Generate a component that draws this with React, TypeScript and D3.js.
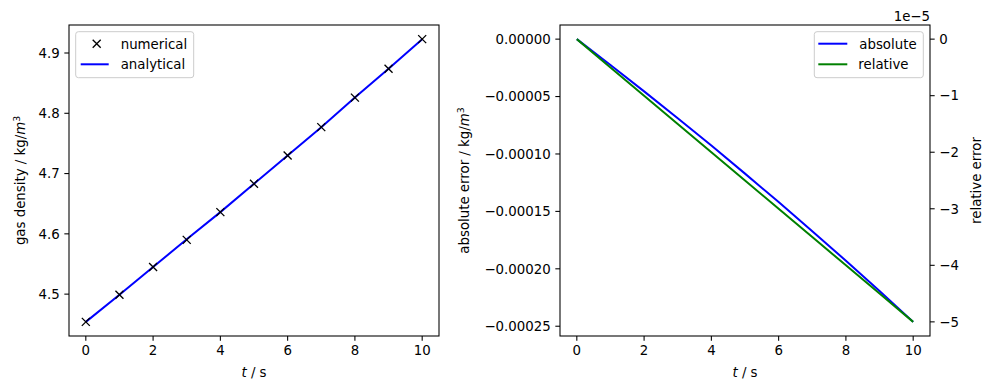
import React from 'react';
import * as d3 from 'd3';

// values
const times = [0, 1, 2, 3, 4, 5, 6, 7, 8, 9, 10];
const numerical = [4.454, 4.499, 4.545, 4.590, 4.636, 4.683, 4.730, 4.777, 4.826, 4.874, 4.923];
const analytical = [4.454, 4.499, 4.545, 4.591, 4.636, 4.683, 4.730, 4.777, 4.826, 4.874, 4.923];
const absoluteError = [0, -2.25e-5, -4.55e-5, -6.89e-5, -9.27e-5, -1.171e-4, -1.419e-4, -1.672e-4, -1.930e-4, -2.193e-4, -2.462e-4];
const relativeError = [0, -0.5e-5, -1.0e-5, -1.5e-5, -2.0e-5, -2.5e-5, -3.0e-5, -3.5e-5, -4.0e-5, -4.5e-5, -5.0e-5];

const timeTicks = [0, 2, 4, 6, 8, 10];
const densityTicks = [4.5, 4.6, 4.7, 4.8, 4.9];
const absTicks = [0, -0.00005, -0.0001, -0.00015, -0.0002, -0.00025];
const relTicks = [0, -1e-5, -2e-5, -3e-5, -4e-5, -5e-5];

const FONT = '"DejaVu Sans", sans-serif';
const FS = 13.33;
const TOP = 25;
const BOTTOM = 336;
const TICK = 4.67;
const leftBox = {x0: 69, x1: 439};
const rightBox = {x0: 560, x1: 930};

// matplotlib style 5% margins
function padded(values: number[]): [number, number] {
  const [lo, hi] = d3.extent(values) as [number, number];
  const m = (hi - lo) * 0.05;
  return [lo - m, hi + m];
}
const minus = (s: string) => s.replace('-', '\u2212');

function Frame({x0, x1}: {x0: number, x1: number}) {
  return <rect x={x0} y={TOP} width={x1 - x0} height={BOTTOM - TOP} fill="none" stroke="black" strokeWidth={1.07}/>;
}

function XAxis({x}: {x: d3.ScaleLinear<number, number>}) {
  const [r0, r1] = x.range();
  return (
    <g>
      {timeTicks.map(t => (
        <g key={t} transform={`translate(${x(t)},${BOTTOM})`}>
          <line y2={TICK} stroke="black" strokeWidth={1.07}/>
          <text y={19} textAnchor="middle" fontSize={FS}>{t}</text>
        </g>
      ))}
      <text x={(r0 + r1) / 2} y={377} textAnchor="middle" fontSize={FS}>
        <tspan fontStyle="italic">t</tspan> / s
      </text>
    </g>
  );
}

function YAxis({y, ticks, at, side, fmt}: {y: d3.ScaleLinear<number, number>, ticks: number[], at: number, side: 'left' | 'right', fmt: (v: number) => string}) {
  const dir = side === 'left' ? -1 : 1;
  return (
    <g>
      {ticks.map(v => (
        <g key={v} transform={`translate(${at},${y(v)})`}>
          <line x2={dir * TICK} stroke="black" strokeWidth={1.07}/>
          <text x={dir * 9.3} dy="0.36em" textAnchor={side === 'left' ? 'end' : 'start'} fontSize={FS}>{fmt(v)}</text>
        </g>
      ))}
    </g>
  );
}

function UnitLabel({x, text}: {x: number, text: string}) {
  const cy = (TOP + BOTTOM) / 2;
  return (
    <text transform={`translate(${x},${cy}) rotate(-90)`} textAnchor="middle" fontSize={FS}>
      {text} / kg/<tspan fontStyle="italic">m</tspan><tspan fontSize={9.3} dy={-5.5}>3</tspan>
    </text>
  );
}

function DensityPanel() {
  const x = d3.scaleLinear().domain(padded(times)).range([leftBox.x0, leftBox.x1]);
  const y = d3.scaleLinear().domain(padded(numerical.concat(analytical))).range([BOTTOM, TOP]);
  const line = d3.line<number>().x((_, i) => x(times[i])).y(d => y(d));
  const lx = 75.7, ly = 31.7;
  return (
    <g>
      <path d={line(analytical) || ''} fill="none" stroke="#0000ff" strokeWidth={2}/>
      {numerical.map((v, i) => (
        <path key={i} d="M-4,-4L4,4M-4,4L4,-4" transform={`translate(${x(times[i])},${y(v)})`} stroke="black" strokeWidth={1.33}/>
      ))}
      <Frame {...leftBox}/>
      <XAxis x={x}/>
      <YAxis y={y} ticks={densityTicks} at={leftBox.x0} side="left" fmt={d3.format('.1f')}/>
      <UnitLabel x={25} text="gas density"/>
      <g transform={`translate(${lx},${ly})`}>
        <rect width={118} height={46} rx={2.7} fill="white" fillOpacity={0.8} stroke="#cccccc" strokeWidth={1}/>
        <path d="M17,8L25,16M17,16L25,8" stroke="black" strokeWidth={1.33}/>
        <text x={45} y={17} fontSize={FS}>numerical</text>
        <line x1={5} x2={33} y1={32.6} y2={32.6} stroke="#0000ff" strokeWidth={2}/>
        <text x={45} y={37} fontSize={FS}>analytical</text>
      </g>
    </g>
  );
}

function ErrorPanel() {
  const x = d3.scaleLinear().domain(padded(times)).range([rightBox.x0, rightBox.x1]);
  const yAbs = d3.scaleLinear().domain(padded(absoluteError)).range([BOTTOM, TOP]);
  const yRel = d3.scaleLinear().domain(padded(relativeError)).range([BOTTOM, TOP]);
  const absLine = d3.line<number>().x((_, i) => x(times[i])).y(d => yAbs(d));
  const relLine = d3.line<number>().x((_, i) => x(times[i])).y(d => yRel(d));
  const lx = 814.3, ly = 31.7;
  return (
    <g>
      <path d={absLine(absoluteError) || ''} fill="none" stroke="#0000ff" strokeWidth={2}/>
      <path d={relLine(relativeError) || ''} fill="none" stroke="#008000" strokeWidth={2}/>
      <Frame {...rightBox}/>
      <XAxis x={x}/>
      <YAxis y={yAbs} ticks={absTicks} at={rightBox.x0} side="left" fmt={v => minus(d3.format('.5f')(v))}/>
      <YAxis y={yRel} ticks={relTicks} at={rightBox.x1} side="right" fmt={v => minus(String(Math.round(v / 1e-5)))}/>
      <text x={rightBox.x1} y={20.5} textAnchor="end" fontSize={FS}>1e{'\u2212'}5</text>
      <UnitLabel x={469} text="absolute error"/>
      <text transform={`translate(980.5,${(TOP + BOTTOM) / 2}) rotate(-90)`} textAnchor="middle" fontSize={FS}>relative error</text>
      <g transform={`translate(${lx},${ly})`}>
        <rect width={109} height={46} rx={2.7} fill="white" fillOpacity={0.8} stroke="#cccccc" strokeWidth={1}/>
        <line x1={4} x2={33} y1={12} y2={12} stroke="#0000ff" strokeWidth={2}/>
        <text x={45} y={17} fontSize={FS}>absolute</text>
        <line x1={4} x2={33} y1={32.6} y2={32.6} stroke="#008000" strokeWidth={2}/>
        <text x={44} y={37} fontSize={FS}>relative</text>
      </g>
    </g>
  );
}

export default function App() {
  return (
    <svg width={989} height={390} style={{position: 'absolute', left: 0, top: 0, background: 'white'}} fontFamily={FONT}>
      <rect width={989} height={390} fill="white"/>
      <DensityPanel/>
      <ErrorPanel/>
    </svg>
  );
}
